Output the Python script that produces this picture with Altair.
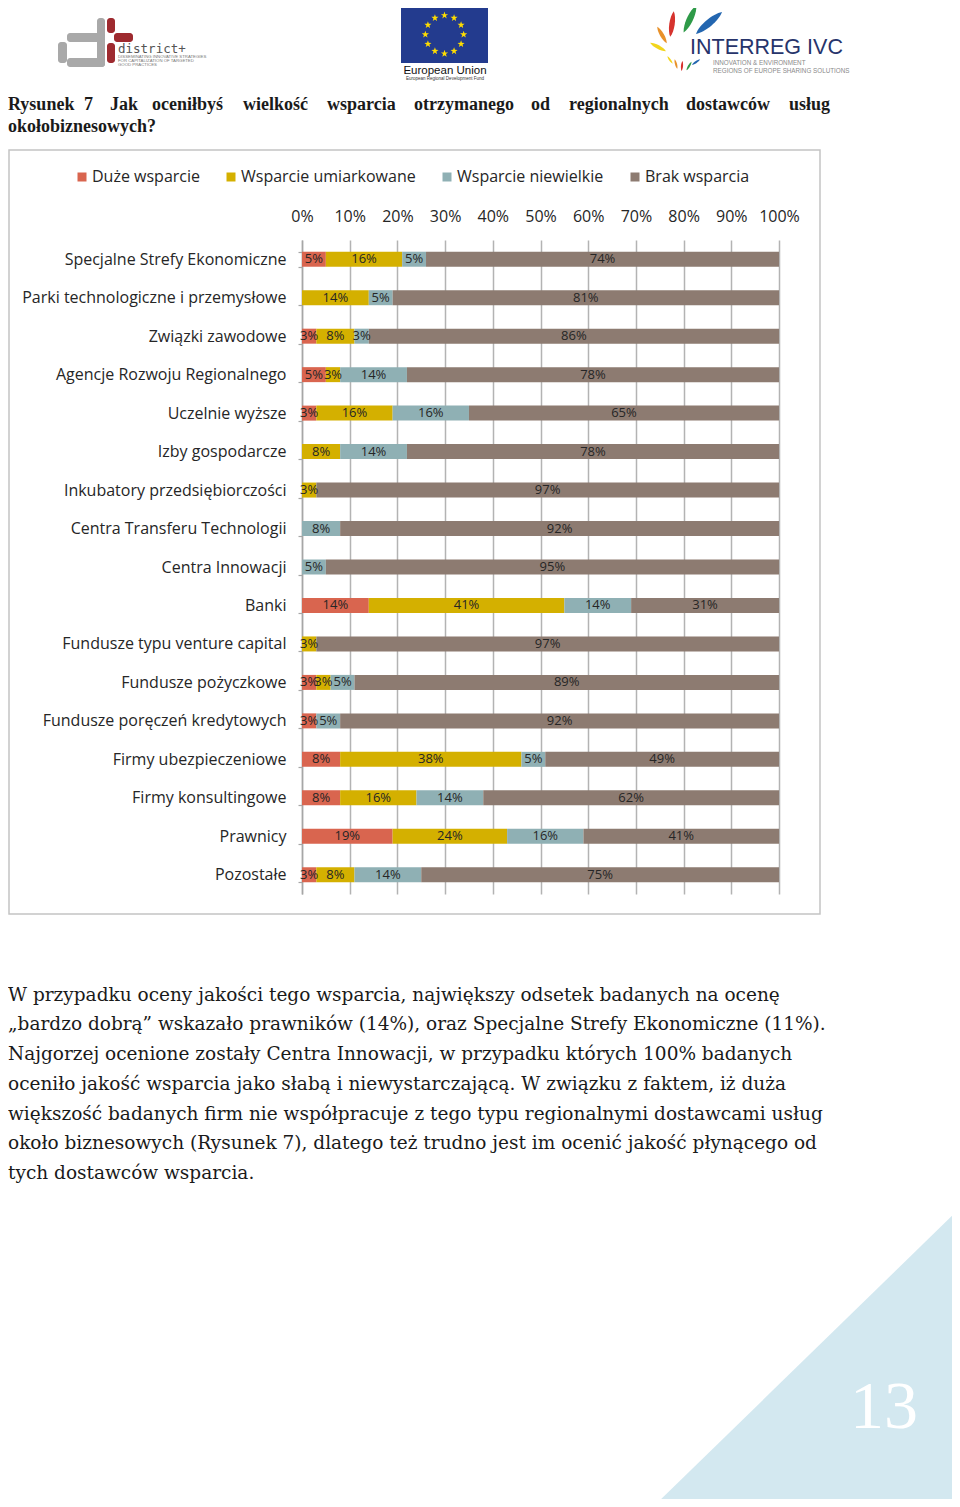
import math
import altair as alt
import pandas as pd

# ---------------- data ----------------
categories = [
    "Specjalne Strefy Ekonomiczne",
    "Parki technologiczne i przemysłowe",
    "Związki zawodowe",
    "Agencje Rozwoju Regionalnego",
    "Uczelnie wyższe",
    "Izby gospodarcze",
    "Inkubatory przedsiębiorczości",
    "Centra Transferu Technologii",
    "Centra Innowacji",
    "Banki",
    "Fundusze typu venture capital",
    "Fundusze pożyczkowe",
    "Fundusze poręczeń kredytowych",
    "Firmy ubezpieczeniowe",
    "Firmy konsultingowe",
    "Prawnicy",
    "Pozostałe",
]
series = ["Duże wsparcie", "Wsparcie umiarkowane", "Wsparcie niewielkie", "Brak wsparcia"]
duze = [5, 0, 3, 5, 3, 0, 0, 0, 0, 14, 0, 3, 3, 8, 8, 19, 3]
umiarkowane = [16, 14, 8, 3, 16, 8, 3, 0, 0, 41, 3, 3, 0, 38, 16, 24, 8]
niewielkie = [5, 5, 3, 14, 16, 14, 0, 8, 5, 14, 0, 5, 5, 5, 14, 16, 14]
brak = [74, 81, 86, 78, 65, 78, 97, 92, 95, 31, 97, 89, 92, 49, 62, 41, 75]
x_ticks = [0, 10, 20, 30, 40, 50, 60, 70, 80, 90, 100]

caption_words = ["Rysunek", "7", "Jak", "oceniłbyś", "wielkość", "wsparcia",
                 "otrzymanego", "od", "regionalnych", "dostawców", "usług"]
caption_line2 = "okołobiznesowych?"
body_lines = [
    "W przypadku oceny jakości tego wsparcia, największy odsetek badanych na ocenę",
    "„bardzo dobrą” wskazało prawników (14%), oraz Specjalne Strefy Ekonomiczne (11%).",
    "Najgorzej ocenione zostały Centra Innowacji, w przypadku których 100% badanych",
    "oceniło jakość wsparcia jako słabą i niewystarczającą. W związku z faktem, iż duża",
    "większość badanych firm nie współpracuje z tego typu regionalnymi dostawcami usług",
    "około biznesowych (Rysunek 7), dlatego też trudno jest im ocenić jakość płynącego od",
    "tych dostawców wsparcia.",
]
page_number = "13"

# ---------------- table ----------------
rows = []
for i, cat in enumerate(categories):
    vals = [duze[i], umiarkowane[i], niewielkie[i], brak[i]]
    start = 0
    for s, v in zip(series, vals):
        rows.append({"cat": cat, "series": s, "order": series.index(s), "value": v,
                     "start": start, "end": start + v, "mid": start + v / 2,
                     "lab": f"{v}%"})
        start += v
df = pd.DataFrame(rows)
df_lab = df[df["value"] > 0]

colors = ["#d9654f", "#d4b000", "#8fb0b4", "#8d7b71"]

# ---------------- layout helpers (page pixel -> plot-relative) ----------------
OX, OY = 302, 240


def rx(px):
    return px - OX


def ry(py):
    return py - OY


dummy = pd.DataFrame({"d": [0]})


def txt(s, px, py, size, font="Open Sans", color="#1a1a1a", weight="normal",
        align="left", baseline="middle"):
    return alt.Chart(dummy).mark_text(
        text=s, font=font, fontSize=size, color=color, fontWeight=weight,
        align=align, baseline=baseline
    ).encode(x=alt.value(rx(px)), y=alt.value(ry(py)))


def rect(px1, py1, px2, py2, color, radius=0):
    return alt.Chart(dummy).mark_rect(color=color, cornerRadius=radius).encode(
        x=alt.value(rx(px1)), x2=alt.value(rx(px2)),
        y=alt.value(ry(py1)), y2=alt.value(ry(py2)))


def sym(shape, px, py, size, color, angle=0):
    return alt.Chart(dummy).mark_point(
        shape=shape, filled=True, size=size, color=color, angle=angle % 360,
        opacity=1, strokeWidth=0
    ).encode(x=alt.value(rx(px)), y=alt.value(ry(py)))


# ---------------- main chart ----------------
y_enc = alt.Y("cat:N", sort=categories,
              scale=alt.Scale(paddingInner=0.61, paddingOuter=0.305),
              axis=alt.Axis(title=None, domain=True, domainColor="#a6a6a6", domainWidth=1.5,
                            ticks=True, tickColor="#a6a6a6", tickSize=4, tickWidth=1.2,
                            tickBand="extent", labelFont="Open Sans", labelFontSize=16,
                            labelColor="#262626", labelPadding=12, grid=False,
                            labelLimit=400))

bars = alt.Chart(df).mark_bar().encode(
    y=y_enc,
    x=alt.X("start:Q", scale=alt.Scale(domain=[0, 100], nice=False),
            axis=alt.Axis(orient="top", values=x_ticks, labelExpr="datum.value + '%'",
                          title=None, domain=False, ticks=False, grid=True,
                          gridColor="#b3b3b3", gridWidth=1.5, labelFont="Open Sans",
                          labelFontSize=16, labelColor="#262626", labelPadding=16,
                          labelOverlap=False, labelFlush=False)),
    x2="end:Q",
    color=alt.Color("series:N", sort=series,
                    scale=alt.Scale(domain=series, range=colors),
                    legend=alt.Legend(orient="none", legendX=-228, legendY=-71,
                                      direction="horizontal", title=None,
                                      symbolType="square", symbolSize=81,
                                      symbolStrokeWidth=0, labelFont="Open Sans",
                                      labelFontSize=16, labelColor="#262626",
                                      labelLimit=400,
                                      columnPadding=23, labelOffset=2, padding=0)),
    order=alt.Order("order:Q"),
)

labels = alt.Chart(df_lab).mark_text(font="Open Sans", fontSize=13, color="#262626").encode(
    y=alt.Y("cat:N", sort=categories),
    x=alt.X("mid:Q"),
    text="lab:N",
)

frame = alt.Chart(dummy).mark_rect(filled=False, stroke="#c4c4c4", strokeWidth=1.5).encode(
    x=alt.value(rx(9)), x2=alt.value(rx(820)), y=alt.value(ry(150)), y2=alt.value(ry(914)))

# ---------------- page decorations ----------------
layers = [frame, bars, labels]

# caption (justified first line, word by word)
caption_x = [8, 84, 110, 152, 243, 327, 414, 531, 569, 686, 789]
for w, px in zip(caption_words, caption_x):
    layers.append(txt(w, px, 105, 18, font="Liberation Serif", weight="bold"))
layers.append(txt(caption_line2, 8, 127, 18, font="Liberation Serif", weight="bold"))

# body text
body_y = [995, 1024, 1054, 1084, 1114, 1143, 1173]
for line, py in zip(body_lines, body_y):
    layers.append(txt(line, 8, py, 18.5, font="DejaVu Serif", color="#1a1a1a"))

# corner triangle and page number
tri = "M 0.987 -0.916 L 1 1 L -0.981 1 Z"
layers.append(sym(tri, 805, 1352, 310 ** 2, "#d3e8f0"))
layers.append(txt(page_number, 884, 1428, 68, font="Liberation Serif", color="#ffffff",
                  align="center", baseline="alphabetic"))

# district+ logo
gray, dred = "#a9a9a9", "#9e2a2f"
layers += [
    rect(97, 18, 105, 67, gray, 3),
    rect(67, 33, 105, 42, gray, 3),
    rect(58, 42, 67, 63, gray, 3),
    rect(67, 58, 105, 67, gray, 3),
    rect(107, 18, 115, 33, dred, 3),
    rect(114, 33, 133, 42, dred, 3),
    rect(107, 43, 115, 63, dred, 3),
]
layers.append(txt("district+", 118, 49, 12.5, font="DejaVu Sans Mono", color="#555555"))
layers.append(txt("DISSEMINATING INNOVATIVE STRATEGIES", 118, 56.5, 4.3, font="Liberation Sans", color="#777777"))
layers.append(txt("FOR CAPITALIZATION OF TARGETED", 118, 60.5, 4.3, font="Liberation Sans", color="#777777"))
layers.append(txt("GOOD PRACTICES", 118, 64.5, 4.3, font="Liberation Sans", color="#777777"))

# EU flag
layers.append(rect(401, 6, 488, 63, "#233b8e"))


def star(cx, cy, R, r):
    pts = []
    for k in range(10):
        a = -math.pi / 2 + k * math.pi / 5
        rr = R if k % 2 == 0 else r
        pts.append((cx + rr * math.cos(a), cy + rr * math.sin(a)))
    return "M " + " L ".join(f"{x:.3f} {y:.3f}" for x, y in pts) + " Z"


ring = " ".join(star(0.66 * math.cos(2 * math.pi * i / 12), 0.66 * math.sin(2 * math.pi * i / 12),
                     0.13, 0.052) for i in range(12))
layers.append(sym(ring, 444.5, 34.5, 58 ** 2, "#ffdd00"))
layers.append(txt("European Union", 445, 71, 11.5, font="Liberation Sans", color="#111111", align="center"))
layers.append(txt("European   Regional   Development   Fund", 445, 79, 4.5, font="Liberation Sans",
                  color="#333333", align="center"))

# INTERREG IVC logo
leaf = "M 0 -1 C 0.28 -0.5 0.28 0.5 0 1 C -0.28 0.5 -0.28 -0.5 0 -1 Z"
streaks = [
    (672, 24, 26, 8, "#d6332e"),
    (690, 19, 30, 25, "#2e9a48"),
    (709, 23, 34, 50, "#2366b0"),
    (662, 35, 19, -30, "#e8912a"),
    (658, 47, 18, -62, "#f2d51c"),
    (670, 60, 9, -35, "#f2d51c"),
    (676, 64, 10, -15, "#e8912a"),
    (682, 66, 10, 5, "#d6332e"),
    (689, 66, 10, 30, "#2e9a48"),
    (696, 62, 10, 55, "#2366b0"),
]
for px, py, ln, ang, col in streaks:
    layers.append(sym(leaf, px, py, ln ** 2, col, ang))
layers.append(txt("INTERREG IVC", 690, 48, 21.5, font="Liberation Sans", color="#27346b"))
layers.append(txt("INNOVATION & ENVIRONMENT", 713, 63, 6.3, font="Liberation Sans", color="#8a8a8a"))
layers.append(txt("REGIONS OF EUROPE SHARING SOLUTIONS", 713, 71, 6.3, font="Liberation Sans", color="#8a8a8a"))

chart = alt.layer(*layers).properties(
    width=477,
    height=654,
    padding={"left": 294, "top": 232, "right": 173, "bottom": 605},
    autosize=alt.AutoSizeParams(type="none"),
    background="white",
).configure_view(strokeWidth=0)

chart.save("out.html", embed_options={"renderer": "svg", "actions": False})
